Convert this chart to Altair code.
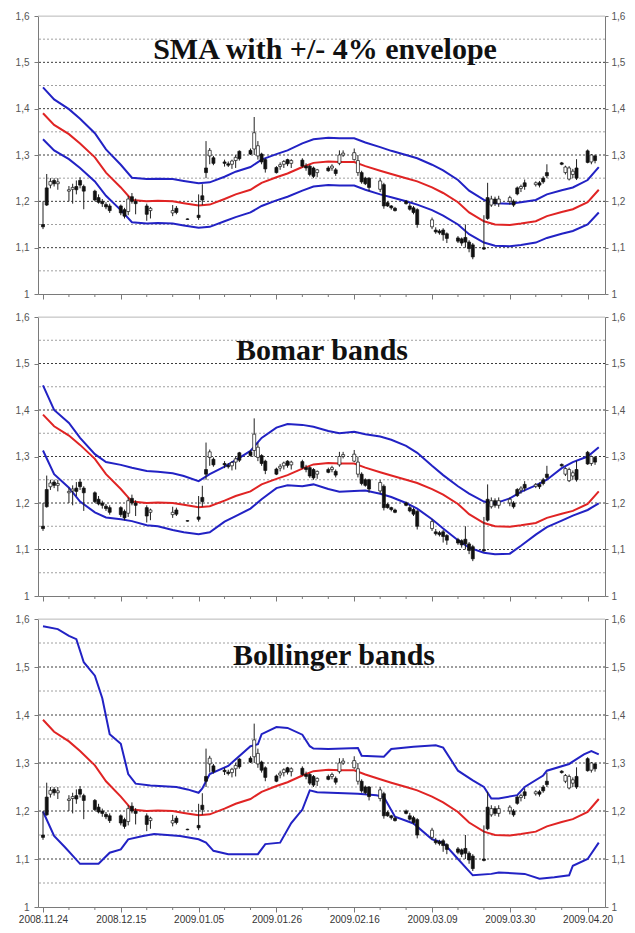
import altair as alt
import pandas as pd

# ---------------- data ----------------
CANDLE_DATES = [
    "2008-11-24", "2008-11-25", "2008-11-26", "2008-11-27", "2008-11-28",
    "2008-12-01", "2008-12-02", "2008-12-03", "2008-12-04", "2008-12-05",
    "2008-12-08", "2008-12-09", "2008-12-10", "2008-12-11", "2008-12-12",
    "2008-12-15", "2008-12-16", "2008-12-17", "2008-12-18", "2008-12-19",
    "2008-12-22", "2008-12-23", "2008-12-29", "2008-12-30", "2009-01-02",
    "2009-01-05", "2009-01-06", "2009-01-07", "2009-01-08", "2009-01-09",
    "2009-01-12", "2009-01-13", "2009-01-14", "2009-01-15", "2009-01-16",
    "2009-01-19", "2009-01-20", "2009-01-21", "2009-01-22", "2009-01-23",
    "2009-01-26", "2009-01-27", "2009-01-28", "2009-01-29", "2009-01-30",
    "2009-02-02", "2009-02-03", "2009-02-04", "2009-02-05", "2009-02-06",
    "2009-02-09", "2009-02-10", "2009-02-11", "2009-02-12", "2009-02-13",
    "2009-02-16", "2009-02-17", "2009-02-18", "2009-02-19", "2009-02-20",
    "2009-02-23", "2009-02-24", "2009-02-25", "2009-02-26", "2009-02-27",
    "2009-03-02", "2009-03-03", "2009-03-04", "2009-03-05",
    "2009-03-09", "2009-03-10", "2009-03-11", "2009-03-12", "2009-03-13",
    "2009-03-16", "2009-03-17", "2009-03-18", "2009-03-19", "2009-03-20",
    "2009-03-23", "2009-03-24", "2009-03-25", "2009-03-26", "2009-03-27",
    "2009-03-30", "2009-03-31", "2009-04-01", "2009-04-02", "2009-04-03",
    "2009-04-06", "2009-04-07", "2009-04-08", "2009-04-09",
    "2009-04-13", "2009-04-14", "2009-04-15", "2009-04-16", "2009-04-17",
    "2009-04-20", "2009-04-21", "2009-04-22",
]
OPEN = [
    1.150, 1.229, 1.235, 1.245, 1.238,
    1.222, 1.226, 1.232, 1.245, 1.232,
    1.222, 1.208, 1.200, 1.193, 1.190,
    1.190, 1.182, 1.178, 1.210, 1.200,
    1.190, 1.180, 1.175, 1.185, 1.162,
    1.170, 1.212, 1.272, 1.298, 1.294,
    1.285, 1.281, 1.280, 1.288, 1.308,
    1.310, 1.313, 1.298, 1.302, 1.290,
    1.273, 1.275, 1.280, 1.290, 1.282,
    1.289, 1.276, 1.276, 1.272, 1.262,
    1.272, 1.272, 1.268, 1.282, 1.300,
    1.290, 1.262, 1.262, 1.250, 1.250,
    1.226, 1.236, 1.197, 1.190, 1.185,
    1.200, 1.190, 1.186, 1.182,
    1.145, 1.138, 1.136, 1.138, 1.130,
    1.121, 1.119, 1.122, 1.112, 1.106,
    1.100, 1.208, 1.192, 1.205, 1.195,
    1.200, 1.200, 1.229, 1.228, 1.240,
    1.236, 1.240, 1.250, 1.262,
    1.283, 1.262, 1.248, 1.258, 1.272,
    1.309, 1.285, 1.298,
]
HIGH = [
    1.200, 1.259, 1.250, 1.250, 1.250,
    1.233, 1.238, 1.245, 1.252, 1.236,
    1.225, 1.215, 1.205, 1.198, 1.195,
    1.193, 1.186, 1.212, 1.218, 1.206,
    1.195, 1.188, 1.192, 1.190, 1.163,
    1.215, 1.237, 1.330, 1.315, 1.298,
    1.290, 1.286, 1.290, 1.300, 1.310,
    1.314, 1.382, 1.330, 1.305, 1.293,
    1.276, 1.284, 1.289, 1.292, 1.291,
    1.293, 1.282, 1.279, 1.275, 1.270,
    1.276, 1.280, 1.272, 1.310, 1.310,
    1.314, 1.300, 1.266, 1.253, 1.252,
    1.250, 1.240, 1.200, 1.192, 1.188,
    1.203, 1.196, 1.190, 1.185,
    1.165, 1.144, 1.140, 1.142, 1.133,
    1.125, 1.122, 1.150, 1.116, 1.110,
    1.170, 1.240, 1.212, 1.210, 1.212,
    1.212, 1.204, 1.232, 1.236, 1.247,
    1.243, 1.244, 1.254, 1.280,
    1.285, 1.277, 1.276, 1.270, 1.291,
    1.312, 1.302, 1.301,
]
LOW = [
    1.140, 1.190, 1.228, 1.232, 1.225,
    1.200, 1.195, 1.215, 1.228, 1.183,
    1.200, 1.195, 1.188, 1.183, 1.175,
    1.170, 1.163, 1.170, 1.195, 1.172,
    1.158, 1.163, 1.168, 1.172, 1.160,
    1.160, 1.192, 1.250, 1.280, 1.278,
    1.275, 1.274, 1.270, 1.272, 1.288,
    1.300, 1.300, 1.290, 1.280, 1.262,
    1.260, 1.268, 1.272, 1.276, 1.272,
    1.273, 1.266, 1.254, 1.250, 1.252,
    1.264, 1.266, 1.255, 1.278, 1.296,
    1.288, 1.255, 1.238, 1.235, 1.222,
    1.220, 1.184, 1.188, 1.182, 1.178,
    1.193, 1.180, 1.172, 1.143,
    1.140, 1.130, 1.128, 1.115, 1.110,
    1.110, 1.104, 1.100, 1.090, 1.075,
    1.095, 1.160, 1.188, 1.190, 1.188,
    1.193, 1.188, 1.213, 1.220, 1.225,
    1.232, 1.230, 1.238, 1.250,
    1.278, 1.258, 1.245, 1.250, 1.246,
    1.282, 1.280, 1.282,
]
CLOSE = [
    1.145, 1.192, 1.243, 1.238, 1.242,
    1.225, 1.230, 1.225, 1.235, 1.222,
    1.203, 1.198, 1.195, 1.188, 1.180,
    1.175, 1.168, 1.205, 1.200, 1.195,
    1.172, 1.185, 1.180, 1.176, 1.161,
    1.165, 1.203, 1.262, 1.310, 1.282,
    1.282, 1.278, 1.287, 1.295, 1.292,
    1.302, 1.348, 1.320, 1.285, 1.270,
    1.262, 1.279, 1.286, 1.281, 1.288,
    1.276, 1.272, 1.258, 1.254, 1.268,
    1.266, 1.276, 1.260, 1.300, 1.304,
    1.305, 1.288, 1.242, 1.238, 1.230,
    1.244, 1.190, 1.190, 1.186, 1.180,
    1.195, 1.183, 1.176, 1.150,
    1.160, 1.134, 1.132, 1.128, 1.120,
    1.114, 1.110, 1.112, 1.098, 1.080,
    1.097, 1.163, 1.205, 1.195, 1.205,
    1.208, 1.192, 1.216, 1.232, 1.232,
    1.240, 1.235, 1.242, 1.255,
    1.280, 1.274, 1.272, 1.265, 1.250,
    1.284, 1.300, 1.288,
]

LINE_DATES = [
    "2008-11-24", "2008-11-27", "2008-12-01", "2008-12-04", "2008-12-08",
    "2008-12-11", "2008-12-15", "2008-12-18", "2008-12-22", "2008-12-25",
    "2008-12-29", "2009-01-01", "2009-01-05", "2009-01-08", "2009-01-12",
    "2009-01-15", "2009-01-19", "2009-01-22", "2009-01-26", "2009-01-29",
    "2009-02-02", "2009-02-05", "2009-02-09", "2009-02-12", "2009-02-16",
    "2009-02-19", "2009-02-23", "2009-02-26", "2009-03-02", "2009-03-05",
    "2009-03-09", "2009-03-12", "2009-03-16", "2009-03-19", "2009-03-23",
    "2009-03-26", "2009-03-30", "2009-04-02", "2009-04-06", "2009-04-09",
    "2009-04-13", "2009-04-16", "2009-04-20", "2009-04-23",
]
SMA = [
    1.390, 1.365, 1.345, 1.325, 1.295, 1.262, 1.230, 1.203, 1.200, 1.201,
    1.200, 1.196, 1.191, 1.193, 1.205, 1.215, 1.225, 1.240, 1.252, 1.260,
    1.274, 1.283, 1.286, 1.285, 1.285, 1.276, 1.266, 1.259, 1.250, 1.243,
    1.230, 1.218, 1.198, 1.176, 1.157, 1.150, 1.149, 1.152, 1.157, 1.168,
    1.177, 1.183, 1.198, 1.225,
]
ENV_UPPER = [
    1.446, 1.420, 1.399, 1.378, 1.347, 1.312, 1.279, 1.251, 1.248, 1.249,
    1.248, 1.244, 1.239, 1.241, 1.253, 1.264, 1.274, 1.290, 1.302, 1.310,
    1.325, 1.334, 1.337, 1.336, 1.336, 1.327, 1.317, 1.309, 1.300, 1.293,
    1.279, 1.267, 1.246, 1.223, 1.203, 1.196, 1.195, 1.198, 1.203, 1.215,
    1.224, 1.230, 1.246, 1.274,
]
ENV_LOWER = [
    1.334, 1.310, 1.291, 1.272, 1.243, 1.212, 1.181, 1.155, 1.152, 1.153,
    1.152, 1.148, 1.143, 1.145, 1.157, 1.166, 1.176, 1.190, 1.202, 1.210,
    1.223, 1.232, 1.235, 1.234, 1.234, 1.225, 1.215, 1.209, 1.200, 1.193,
    1.181, 1.169, 1.150, 1.129, 1.111, 1.104, 1.103, 1.106, 1.111, 1.121,
    1.130, 1.136, 1.150, 1.176,
]
BOMAR_UPPER = [
    1.453, 1.400, 1.372, 1.340, 1.305, 1.288, 1.282, 1.276, 1.269, 1.267,
    1.264, 1.258, 1.247, 1.262, 1.278, 1.292, 1.312, 1.340, 1.362, 1.370,
    1.368, 1.364, 1.355, 1.350, 1.353, 1.348, 1.343, 1.336, 1.323, 1.308,
    1.280, 1.260, 1.236, 1.220, 1.203, 1.199, 1.210, 1.224, 1.238, 1.250,
    1.275, 1.288, 1.300, 1.320,
]
BOMAR_LOWER = [
    1.313, 1.262, 1.233, 1.203, 1.180, 1.169, 1.165, 1.161, 1.152, 1.150,
    1.142, 1.137, 1.133, 1.137, 1.160, 1.172, 1.188, 1.208, 1.232, 1.238,
    1.236, 1.240, 1.230, 1.224, 1.226, 1.227, 1.220, 1.213, 1.200, 1.188,
    1.165, 1.145, 1.120, 1.104, 1.093, 1.090, 1.091, 1.108, 1.132, 1.148,
    1.162, 1.173, 1.185, 1.199,
]
BB_UPPER_DATES = [
    "2008-11-24", "2008-11-28", "2008-12-01", "2008-12-03", "2008-12-05",
    "2008-12-08", "2008-12-10", "2008-12-12", "2008-12-15", "2008-12-17",
    "2008-12-19", "2008-12-23", "2008-12-30", "2009-01-02", "2009-01-05",
    "2009-01-06", "2009-01-08", "2009-01-13", "2009-01-19", "2009-01-21",
    "2009-01-22", "2009-01-26", "2009-01-29", "2009-02-02", "2009-02-04",
    "2009-02-05", "2009-02-09", "2009-02-17", "2009-02-18", "2009-02-24",
    "2009-02-26", "2009-03-04", "2009-03-10", "2009-03-12", "2009-03-16",
    "2009-03-20", "2009-03-23", "2009-03-25", "2009-03-27", "2009-04-01",
    "2009-04-03", "2009-04-08", "2009-04-09", "2009-04-15", "2009-04-19",
    "2009-04-21", "2009-04-23",
]
BB_UPPER = [
    1.585, 1.579, 1.565, 1.558, 1.510,
    1.482, 1.435, 1.360, 1.340, 1.277,
    1.257, 1.253, 1.250, 1.245, 1.238,
    1.247, 1.277, 1.294, 1.335, 1.339,
    1.360, 1.375, 1.373, 1.359, 1.335,
    1.330, 1.329, 1.331, 1.315, 1.313,
    1.329, 1.334, 1.337, 1.332, 1.284,
    1.264, 1.250, 1.226, 1.226, 1.233,
    1.250, 1.274, 1.284, 1.298, 1.318,
    1.325, 1.318,
]
BB_LOWER_DATES = [
    "2008-11-24", "2008-11-27", "2008-11-30", "2008-12-02", "2008-12-04",
    "2008-12-09", "2008-12-12", "2008-12-15", "2008-12-17", "2008-12-21",
    "2008-12-24", "2008-12-31", "2009-01-05", "2009-01-07", "2009-01-09",
    "2009-01-13", "2009-01-21", "2009-01-23", "2009-01-27", "2009-01-30",
    "2009-02-02", "2009-02-04", "2009-02-06", "2009-02-17", "2009-02-22",
    "2009-02-24", "2009-02-27", "2009-03-04", "2009-03-09", "2009-03-12",
    "2009-03-16", "2009-03-20", "2009-03-25", "2009-03-27", "2009-04-03",
    "2009-04-07", "2009-04-11", "2009-04-15", "2009-04-16", "2009-04-20",
    "2009-04-23",
]
BB_LOWER = [
    1.199, 1.148, 1.124, 1.107, 1.090,
    1.090, 1.113, 1.120, 1.141, 1.148,
    1.152, 1.148, 1.141, 1.134, 1.117,
    1.110, 1.110, 1.131, 1.134, 1.175,
    1.203, 1.243, 1.239, 1.236, 1.233,
    1.229, 1.188, 1.174, 1.141, 1.134,
    1.100, 1.066, 1.069, 1.072, 1.069,
    1.059, 1.062, 1.066, 1.086, 1.100,
    1.134,
]

TITLES = ["SMA with +/- 4% envelope", "Bomar bands", "Bollinger bands"]
Y_TICKS = [1.0, 1.1, 1.2, 1.3, 1.4, 1.5, 1.6]
GRID_MAJOR = [1.1, 1.2, 1.3, 1.4, 1.5]
GRID_MINOR = [1.05, 1.15, 1.25, 1.35, 1.45, 1.55]
X_MINOR_TICK_DATES = [
    "2008-12-01", "2008-12-08", "2008-12-22", "2008-12-29",
    "2009-01-12", "2009-01-19", "2009-02-02", "2009-02-09",
    "2009-02-23", "2009-03-02", "2009-03-16", "2009-03-23",
    "2009-04-06", "2009-04-13",
]
X_LABEL_DATES = ["2008-11-24", "2008-12-15", "2009-01-05", "2009-01-26",
                 "2009-02-16", "2009-03-09", "2009-03-30", "2009-04-20"]

# ---------------- helpers ----------------
W = 567
HEIGHTS = [278, 279, 288]
TITLE_POS = [(287, 43), (284, 43), (296, 46)]
BLUE = "#2222c4"
RED = "#e02424"
AXIS_GRAY = "#7a7a7a"
LABEL_GRAY = "#555555"


def dt(s, hours=0):
    y, m, d = (int(p) for p in s.split("-"))
    return alt.DateTime(year=y, month=m, date=d, hours=hours, utc=True)


candles = pd.DataFrame({"date": CANDLE_DATES, "open": OPEN, "high": HIGH,
                        "low": LOW, "close": CLOSE})

yscale = alt.Scale(domain=[1.0, 1.6], nice=False, zero=False)
xscale = alt.Scale(type="utc", domain=[dt("2008-11-24"), dt("2009-04-23", 8)])

y_label_expr = "datum.value == 1 ? '1' : replace(format(datum.value, '.1f'), '.', ',')"


def x_axis(show_labels):
    kw = dict(values=[dt(s) for s in X_LABEL_DATES], grid=False, tickSize=5,
              tickColor=AXIS_GRAY, domainColor=AXIS_GRAY, title=None,
              labelOverlap=False, labelFlush=False)
    if show_labels:
        kw.update(labelExpr="utcFormat(datum.value, '%Y.%m.%d')",
                  labelFont="Liberation Sans", labelFontSize=10, labelColor="#333333",
                  labelPadding=2)
    else:
        kw.update(labels=False)
    return alt.Axis(**kw)


def y_axis(orient):
    pad = 5 if orient == "left" else 3
    return alt.Axis(orient=orient, values=Y_TICKS, labelExpr=y_label_expr, grid=False,
                    tickSize=4 if orient == "left" else 3, tickColor=AXIS_GRAY,
                    domainColor=AXIS_GRAY, labelFont="Liberation Sans", labelFontSize=10,
                    labelColor=LABEL_GRAY, labelPadding=pad, title=None)


def line_layer(dates, values, color):
    df = pd.DataFrame({"date": dates, "v": values})
    return alt.Chart(df).mark_line(color=color, strokeWidth=2).encode(
        x=alt.X("date:T", scale=xscale),
        y=alt.Y("v:Q", scale=yscale),
    )


def panel(idx, upper_dates, upper, lower_dates, lower, show_labels):
    h = HEIGHTS[idx]
    minor = alt.Chart(pd.DataFrame({"v": GRID_MINOR})).mark_rule(
        color="#a0a0a0", strokeDash=[2, 2], strokeWidth=1).encode(
        y=alt.Y("v:Q", scale=yscale))
    major = alt.Chart(pd.DataFrame({"v": GRID_MAJOR})).mark_rule(
        color="#3c3c3c", strokeDash=[2, 2], strokeWidth=1).encode(
        y=alt.Y("v:Q", scale=yscale))
    minor_ticks = alt.Chart(pd.DataFrame({"date": X_MINOR_TICK_DATES})).mark_rule(
        color=AXIS_GRAY, strokeWidth=1).encode(
        x=alt.X("date:T", scale=xscale), y=alt.value(h), y2=alt.value(h + 3))
    base = alt.Chart(candles)
    wick = base.mark_rule(color="#222222", strokeWidth=1).encode(
        x=alt.X("date:T", scale=xscale, axis=x_axis(show_labels)),
        y=alt.Y("low:Q", scale=yscale, axis=y_axis("left")),
        y2="high:Q",
    )
    body = base.mark_bar(size=3, stroke="#111111", strokeWidth=0.7).encode(
        x=alt.X("date:T", scale=xscale),
        y=alt.Y("open:Q", scale=yscale),
        y2="close:Q",
        fill=alt.condition("datum.open > datum.close", alt.value("#111111"),
                           alt.value("white")),
    )
    tx, ty = TITLE_POS[idx]
    title = alt.Chart(pd.DataFrame({"t": [TITLES[idx]]})).mark_text(
        font="Liberation Serif", fontWeight="bold", fontSize=30, align="center",
        baseline="alphabetic", color="#111111").encode(
        text="t:N", x=alt.value(tx), y=alt.value(ty))
    main = alt.layer(
        minor, major,
        line_layer(upper_dates, upper, BLUE),
        line_layer(lower_dates, lower, BLUE),
        line_layer(LINE_DATES, SMA, RED),
        wick, body, minor_ticks, title,
    )
    border = alt.Chart(pd.DataFrame({"v": [1.6]})).mark_rule(
        color="#c8c8c8", strokeWidth=1).encode(
        y=alt.Y("v:Q", scale=yscale, axis=y_axis("right")),
        x=alt.value(0), x2=alt.value(W))
    return alt.layer(main, border).resolve_scale(y="independent").properties(
        width=W, height=h)


p1 = panel(0, LINE_DATES, ENV_UPPER, LINE_DATES, ENV_LOWER, False)
p2 = panel(1, LINE_DATES, BOMAR_UPPER, LINE_DATES, BOMAR_LOWER, False)
p3 = panel(2, BB_UPPER_DATES, BB_UPPER, BB_LOWER_DATES, BB_LOWER, True)

chart = alt.vconcat(p1, p2, p3, spacing=23, bounds="flush").properties(
    padding={"left": 6, "top": 2, "right": 0, "bottom": 0}
).configure_view(stroke=None).configure_axis(labelOverlap=False).configure(
    background="white")

chart.save("out.html", embed_options={"renderer": "svg", "actions": False})
